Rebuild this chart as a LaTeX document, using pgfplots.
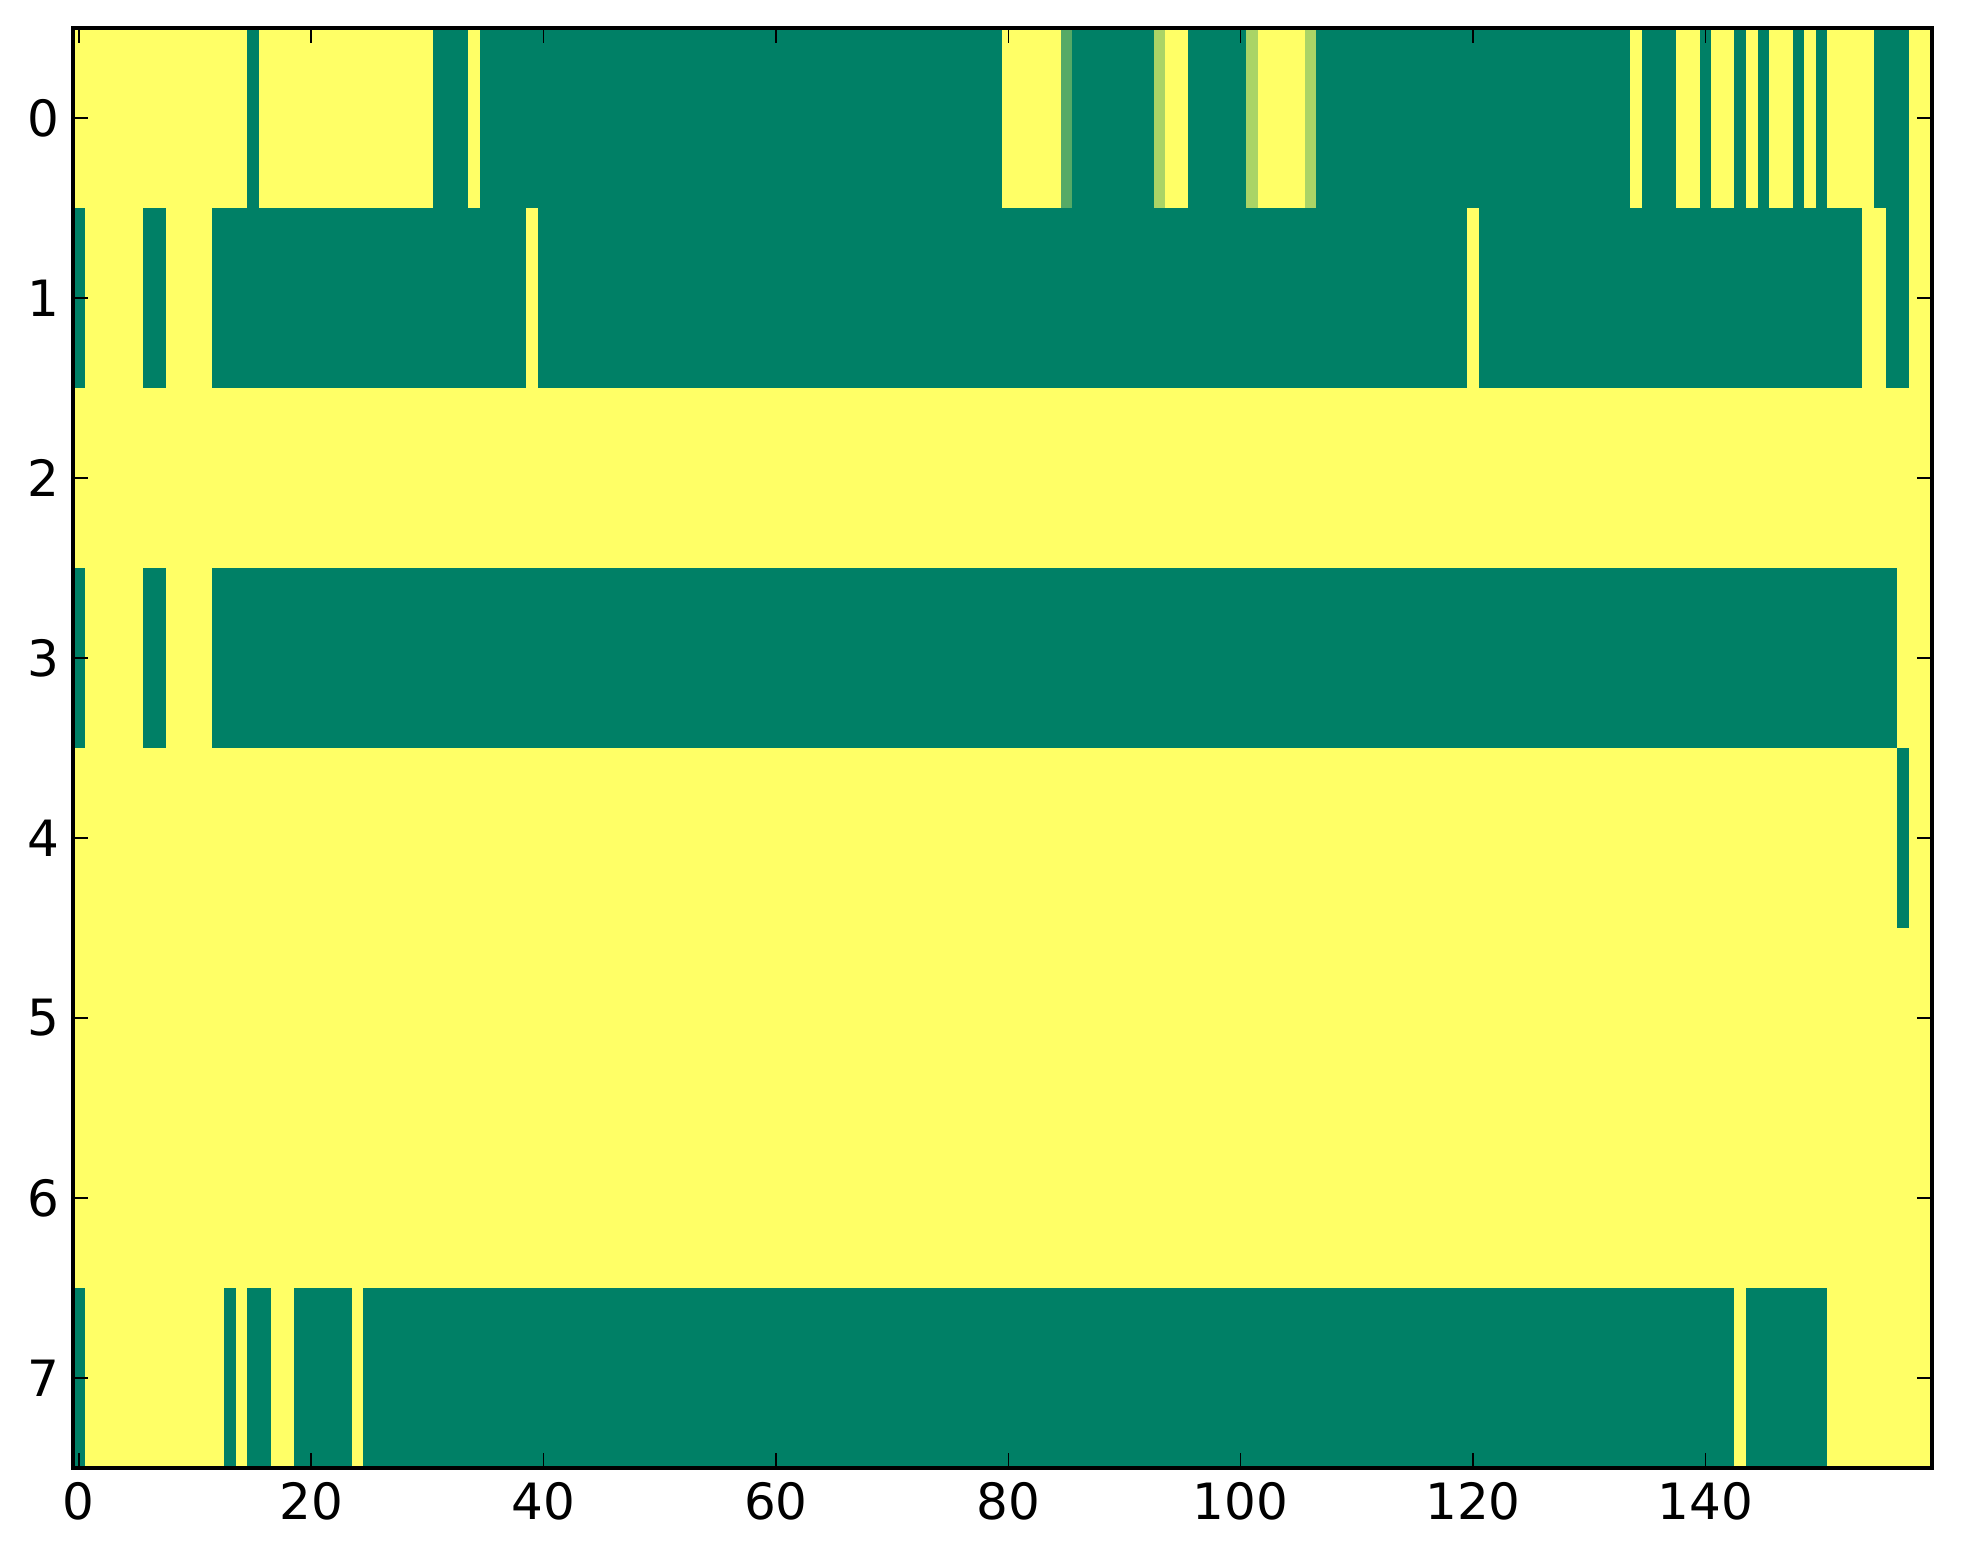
\documentclass[border=0pt]{standalone}
\usepackage{fontspec}
\setmainfont{DejaVu Sans}
\usepackage{pgfplots}
\pgfplotsset{compat=1.18}

% matplotlib "summer" colormap at 0, 1/3, 2/3, 1
\definecolor{sumG}{HTML}{008066}
\definecolor{sumM}{HTML}{55AA66}
\definecolor{sumL}{HTML}{AAD466}
\definecolor{sumY}{HTML}{FFFF66}

% one run of equal cells: row, first column, last column, colour
\newcommand\run[4]{%
  \pgfmathsetmacro\xa{#2-0.5}\pgfmathsetmacro\xb{#3+0.5}%
  \pgfmathsetmacro\ya{#1-0.5}\pgfmathsetmacro\yb{#1+0.5}%
  \edef\doplot{\noexpand\addplot[draw=none, fill=#4, forget plot]
    coordinates {(\xa,\ya) (\xb,\ya) (\xb,\yb) (\xa,\yb)};}%
  \doplot}

\begin{document}
\begin{tikzpicture}
\begin{axis}[
  name=ax,
  scale only axis,
  width=464.75pt, height=360pt,
  xmin=-0.5, xmax=159.5,
  ymin=-0.5, ymax=7.5,
  y dir=reverse,
  axis background/.style={fill=sumY},
  axis line style={line width=0.85pt},
  axis on top,
  tick align=inside,
  xtick pos=both, ytick pos=both,
  xticklabel pos=lower, yticklabel pos=left,
  major tick length=3.75pt,
  every tick/.style={black, line width=0.4pt},
  xtick={0,20,...,140},
  ytick={0,1,...,7},
  tick label style={font=\fontsize{12.5}{15}\selectfont},
  /pgf/number format/assume math mode=true,
]
% row 0
\run{0}{15}{15}{sumG}
\run{0}{31}{33}{sumG}
\run{0}{35}{79}{sumG}
\run{0}{85}{85}{sumM}
\run{0}{86}{92}{sumG}
\run{0}{93}{93}{sumL}
\run{0}{96}{100}{sumG}
\run{0}{101}{101}{sumL}
\run{0}{106}{106}{sumL}
\run{0}{107}{133}{sumG}
\run{0}{135}{137}{sumG}
\run{0}{140}{140}{sumG}
\run{0}{143}{143}{sumG}
\run{0}{145}{145}{sumG}
\run{0}{148}{148}{sumG}
\run{0}{150}{150}{sumG}
\run{0}{155}{157}{sumG}
% row 1
\run{1}{0}{0}{sumG}
\run{1}{6}{7}{sumG}
\run{1}{12}{38}{sumG}
\run{1}{40}{119}{sumG}
\run{1}{121}{153}{sumG}
\run{1}{156}{157}{sumG}
% row 3
\run{3}{0}{0}{sumG}
\run{3}{6}{7}{sumG}
\run{3}{12}{156}{sumG}
% row 4
\run{4}{157}{157}{sumG}
% row 7
\run{7}{0}{0}{sumG}
\run{7}{13}{13}{sumG}
\run{7}{15}{16}{sumG}
\run{7}{19}{23}{sumG}
\run{7}{25}{142}{sumG}
\run{7}{144}{150}{sumG}
\end{axis}
\path[use as bounding box] ([xshift=-18.25pt, yshift=-24pt]ax.south west)
  rectangle ([xshift=7.75pt, yshift=7pt]ax.north east);
\end{tikzpicture}
\end{document}
